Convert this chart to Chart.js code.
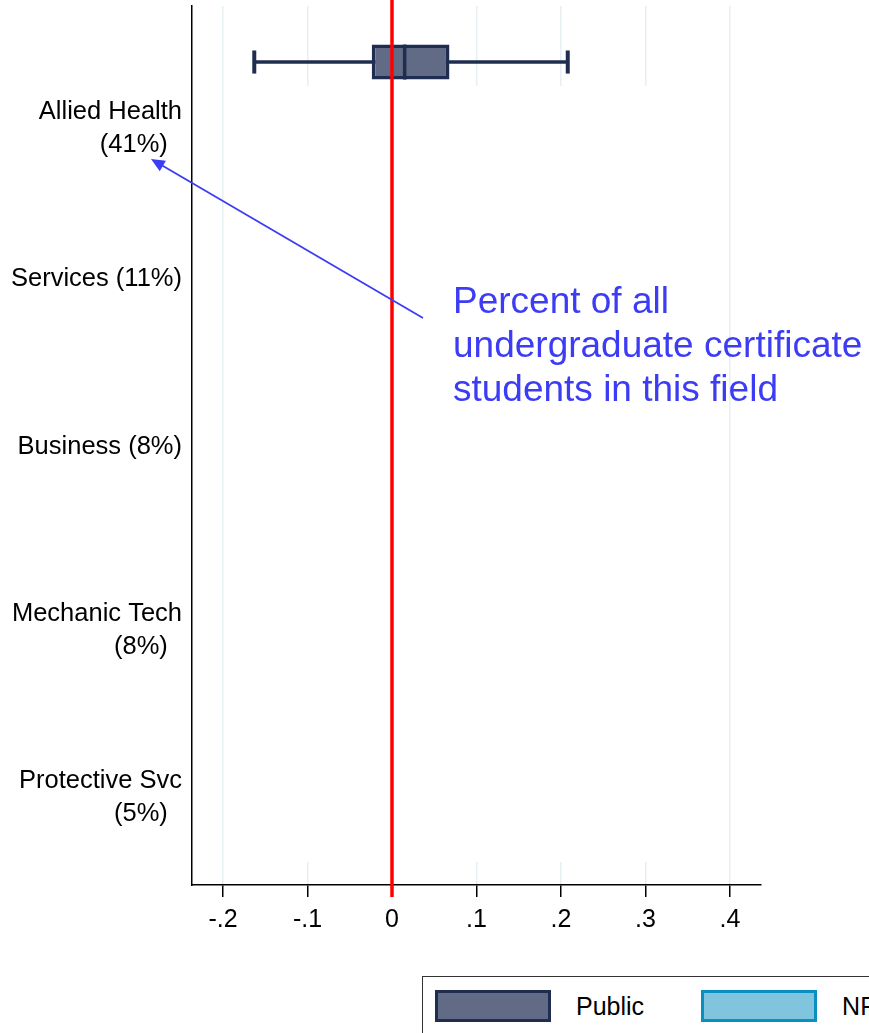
<!DOCTYPE html>
<html>
<head>
<meta charset="utf-8">
<title>Certificate earnings by field</title>
<script src="https://cdn.jsdelivr.net/npm/chart.js@4.4.1/dist/chart.umd.min.js"></script>
<style>
  html, body { margin: 0; padding: 0; background: #fff; overflow: hidden; }
  body { width: 869px; height: 1033px; position: relative; font-family: "Liberation Sans", Arial, sans-serif; }
  #wrap { position: absolute; left: 0; top: 0; width: 869px; height: 960px; }
  #legend {
    position: absolute; left: 422px; top: 976px; width: 620px; height: 90px;
    box-sizing: border-box; border: 1.5px solid #333; padding: 13px 0 0 12px;
    display: flex; align-items: flex-start; white-space: nowrap;
  }
  #legend .item { display: flex; align-items: center; margin-right: 57px; }
  #legend .sw { width: 116px; height: 32px; box-sizing: border-box; border: 3.5px solid; margin-right: 25px; }
  #legend .lbl { font-size: 25px; color: #000; }
</style>
</head>
<body>
<div id="wrap"><canvas id="chart"></canvas></div>
<div id="legend"></div>
<script>
// fields on the y axis (first line sits on the tick)
const categories = [
  ['Allied Health', '(41%)'],
  ['Services (11%)'],
  ['Business (8%)'],
  ['Mechanic Tech', '(8%)'],
  ['Protective Svc', '(5%)']
];
const xTicks = [-0.2, -0.1, 0, 0.1, 0.2, 0.3, 0.4];

// Public: only Allied Health is shown on this slide
const publicLow  = [-0.163, null, null, null, null];
const publicQ1   = [-0.024, null, null, null, null];
const publicMed  = [0.015, null, null, null, null];
const publicQ3   = [0.068, null, null, null, null];
const publicHigh = [0.208, null, null, null, null];

// NP and FP boxes are not shown yet
const npLow = [], npQ1 = [], npMed = [], npQ3 = [], npHigh = [];
const fpLow = [], fpQ1 = [], fpMed = [], fpQ3 = [], fpHigh = [];

function boxData(q1, q3) {
  const pts = [];
  categories.forEach((c, i) => {
    if (q1[i] != null) pts.push({ y: i + 1, x: [q1[i], q3[i]] });
  });
  return pts;
}

function fmt(v) {
  if (Math.abs(v) < 1e-9) return '0';
  return v.toFixed(1).replace('0.', '.');
}

function makeSet(label, fill, line, low, q1, med, q3, high) {
  return {
    label: label,
    data: boxData(q1, q3),
    backgroundColor: fill,
    borderColor: line,
    borderWidth: 3.5,
    borderSkipped: false,
    categoryPercentage: 0.897,
    barPercentage: 0.7,
    low: low, med: med, high: high
  };
}

function eachBox(chart, fn) {
  chart.data.datasets.forEach((ds, d) => {
    const meta = chart.getDatasetMeta(d);
    if (meta.hidden) return;
    meta.data.forEach((el, j) => {
      const i = ds.data[j].y - 1;
      fn(ds, el.getProps(['y', 'height'], true), i);
    });
  });
}

const boxParts = {
  id: 'boxParts',
  beforeDatasetsDraw(chart) {
    const { ctx, chartArea: a, scales: { x } } = chart;
    ctx.save();
    // blank panel over the fields still to be revealed
    const x0 = x.getPixelForValue(-0.19), x1 = x.getPixelForValue(0.39);
    ctx.fillStyle = '#fff';
    ctx.fillRect(x0, a.top + 80, x1 - x0, a.bottom - 23 - (a.top + 80));
    // whiskers
    eachBox(chart, (ds, el, i) => {
      ctx.strokeStyle = ds.borderColor;
      ctx.lineWidth = 3.5;
      ctx.beginPath();
      ctx.moveTo(x.getPixelForValue(ds.low[i]), el.y);
      ctx.lineTo(x.getPixelForValue(ds.high[i]), el.y);
      ctx.stroke();
    });
    ctx.restore();
  },
  afterDatasetsDraw(chart) {
    const { ctx, chartArea: a, scales: { x } } = chart;
    ctx.save();
    eachBox(chart, (ds, el, i) => {
      const h = el.height;
      ctx.strokeStyle = ds.borderColor;
      ctx.lineWidth = 3.5;
      ctx.beginPath();
      const m = x.getPixelForValue(ds.med[i]);
      ctx.moveTo(m, el.y - h / 2);
      ctx.lineTo(m, el.y + h / 2);
      ctx.stroke();
      ctx.lineWidth = 4;
      [ds.low[i], ds.high[i]].forEach(v => {
        const p = x.getPixelForValue(v);
        ctx.beginPath();
        ctx.moveTo(p, el.y - h * 0.33);
        ctx.lineTo(p, el.y + h * 0.33);
        ctx.stroke();
      });
    });
    // zero reference line
    const z = x.getPixelForValue(0);
    ctx.strokeStyle = '#ff0000';
    ctx.lineWidth = 3.5;
    ctx.beginPath();
    ctx.moveTo(z, 0);
    ctx.lineTo(z, a.bottom + 12);
    ctx.stroke();
    ctx.restore();
  },
  afterDraw(chart) {
    const { ctx } = chart;
    ctx.save();
    ctx.strokeStyle = '#3c3cf5';
    ctx.fillStyle = '#3c3cf5';
    ctx.lineWidth = 1.8;
    const tx = 151, ty = 159, sx = 423, sy = 318;
    const ang = Math.atan2(sy - ty, sx - tx);
    ctx.beginPath();
    ctx.moveTo(sx, sy);
    ctx.lineTo(tx + Math.cos(ang) * 10, ty + Math.sin(ang) * 10);
    ctx.stroke();
    ctx.beginPath();
    ctx.moveTo(tx, ty);
    ctx.lineTo(tx + Math.cos(ang - 0.42) * 15, ty + Math.sin(ang - 0.42) * 15);
    ctx.lineTo(tx + Math.cos(ang + 0.42) * 15, ty + Math.sin(ang + 0.42) * 15);
    ctx.closePath();
    ctx.fill();
    ctx.font = '37px "Liberation Sans", Arial, sans-serif';
    ctx.textBaseline = 'alphabetic';
    ['Percent of all', 'undergraduate certificate', 'students in this field']
      .forEach((t, k) => ctx.fillText(t, 453, 313 + k * 44));
    ctx.restore();
  }
};

const chart = new Chart(document.getElementById('chart'), {
  type: 'bar',
  data: {
    datasets: [
      makeSet('Public', '#626b86', '#1f2d50', publicLow, publicQ1, publicMed, publicQ3, publicHigh),
      makeSet('NP', '#80c5dd', '#0a90c0', npLow, npQ1, npMed, npQ3, npHigh),
      makeSet('FP', '#c9d99a', '#6f8f2a', fpLow, fpQ1, fpMed, fpQ3, fpHigh)
    ]
  },
  options: {
    indexAxis: 'y',
    responsive: true,
    maintainAspectRatio: false,
    animation: false,
    layout: { padding: { left: 10, right: 108, top: 6, bottom: 15 } },
    plugins: { legend: { display: false }, tooltip: { enabled: false } },
    scales: {
      x: {
        type: 'linear',
        min: -0.2367,
        max: 0.4367,
        afterBuildTicks: s => { s.ticks = xTicks.map(v => ({ value: v })); },
        afterFit: s => { s.height = 60; },
        grid: { color: '#e8eff2', lineWidth: 1.5, tickColor: '#000', tickLength: 12, tickWidth: 1.5 },
        border: { color: '#000', width: 1.5 },
        ticks: {
          color: '#000', padding: 8, maxRotation: 0,
          font: { family: '"Liberation Sans", Arial, sans-serif', size: 25 },
          callback: v => fmt(v)
        }
      },
      y: {
        type: 'linear',
        reverse: true,
        offset: false,
        min: 0.366,
        max: 5.622,
        afterBuildTicks: s => { s.ticks = categories.map((c, i) => ({ value: i + 1 })); },
        afterFit: s => { s.width = 182; s.paddingTop = 0; s.paddingBottom = 0; },
        grid: { display: false, drawTicks: false, offset: false },
        border: { color: '#000', width: 1.5 },
        ticks: {
          color: '#000', padding: 10, autoSkip: false,
          font: { family: '"Liberation Sans", Arial, sans-serif', size: 25.5, lineHeight: 1.3 },
          callback: v => {
            const lines = categories[Math.round(v) - 1];
            if (!lines) return '';
            return lines.length > 1 ? ['', lines[0], lines[1] + '\u00a0\u00a0'] : lines[0];
          }
        }
      }
    }
  },
  plugins: [boxParts]
});

// legend built from the datasets
const legend = document.getElementById('legend');
chart.data.datasets.forEach(ds => {
  const item = document.createElement('div');
  item.className = 'item';
  const sw = document.createElement('div');
  sw.className = 'sw';
  sw.style.background = ds.backgroundColor;
  sw.style.borderColor = ds.borderColor;
  const lbl = document.createElement('span');
  lbl.className = 'lbl';
  lbl.textContent = ds.label;
  item.appendChild(sw);
  item.appendChild(lbl);
  legend.appendChild(item);
});
</script>
</body>
</html>
